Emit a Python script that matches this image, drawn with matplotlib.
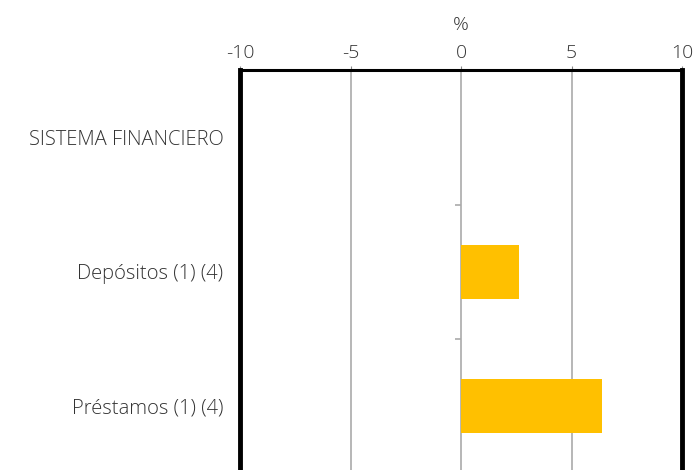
import matplotlib.pyplot as plt

# Data
categories = ['SISTEMA FINANCIERO', 'Depósitos (1) (4)', 'Préstamos (1) (4)']
values = [None, 2.62, 6.38]
xticks = [-10, -5, 0, 5, 10]

plt.rcParams['font.family'] = ['Open Sans', 'DejaVu Sans']
plt.rcParams['font.weight'] = 'light'

fig = plt.figure(figsize=(6.98, 4.70), dpi=100)
ax = fig.add_axes([240 / 698, 0, 442 / 698, 400 / 470])

ypos = list(range(len(categories)))
for y, v in zip(ypos, values):
    if v is not None:
        ax.barh(y, v, height=0.4, color='#FFC000', zorder=3)

ax.set_xlim(-10, 10)
ax.set_ylim(2.478, -0.507)

ax.set_xticks(xticks)
ax.set_xticklabels([str(t) for t in xticks])
ax.xaxis.tick_top()
ax.xaxis.set_label_position('top')
ax.set_xlabel('%', fontsize=14, color='#333333', labelpad=10, fontweight='light')
ax.tick_params(axis='x', length=3, color='#888888', labelsize=14, labelcolor='#333333', pad=3)

ax.set_yticks(ypos)
ax.set_yticklabels(categories)
ax.tick_params(axis='y', length=0, labelsize=14.5, labelcolor='#333333', pad=12)

# vertical gridlines
for t in [-5, 0, 5]:
    ax.axvline(t, color='#aaaaaa', linewidth=1.2, zorder=1)

# small ticks on the zero line between categories
ax.hlines([0.5, 1.5], -0.28, 0, color='#aaaaaa', linewidth=1.2, zorder=2)

for side in ['left', 'right']:
    ax.spines[side].set_linewidth(3.5)
    ax.spines[side].set_color('black')
ax.spines['top'].set_linewidth(2.2)
ax.spines['top'].set_color('black')
ax.spines['bottom'].set_visible(False)

fig.savefig('out.png', dpi=100)
